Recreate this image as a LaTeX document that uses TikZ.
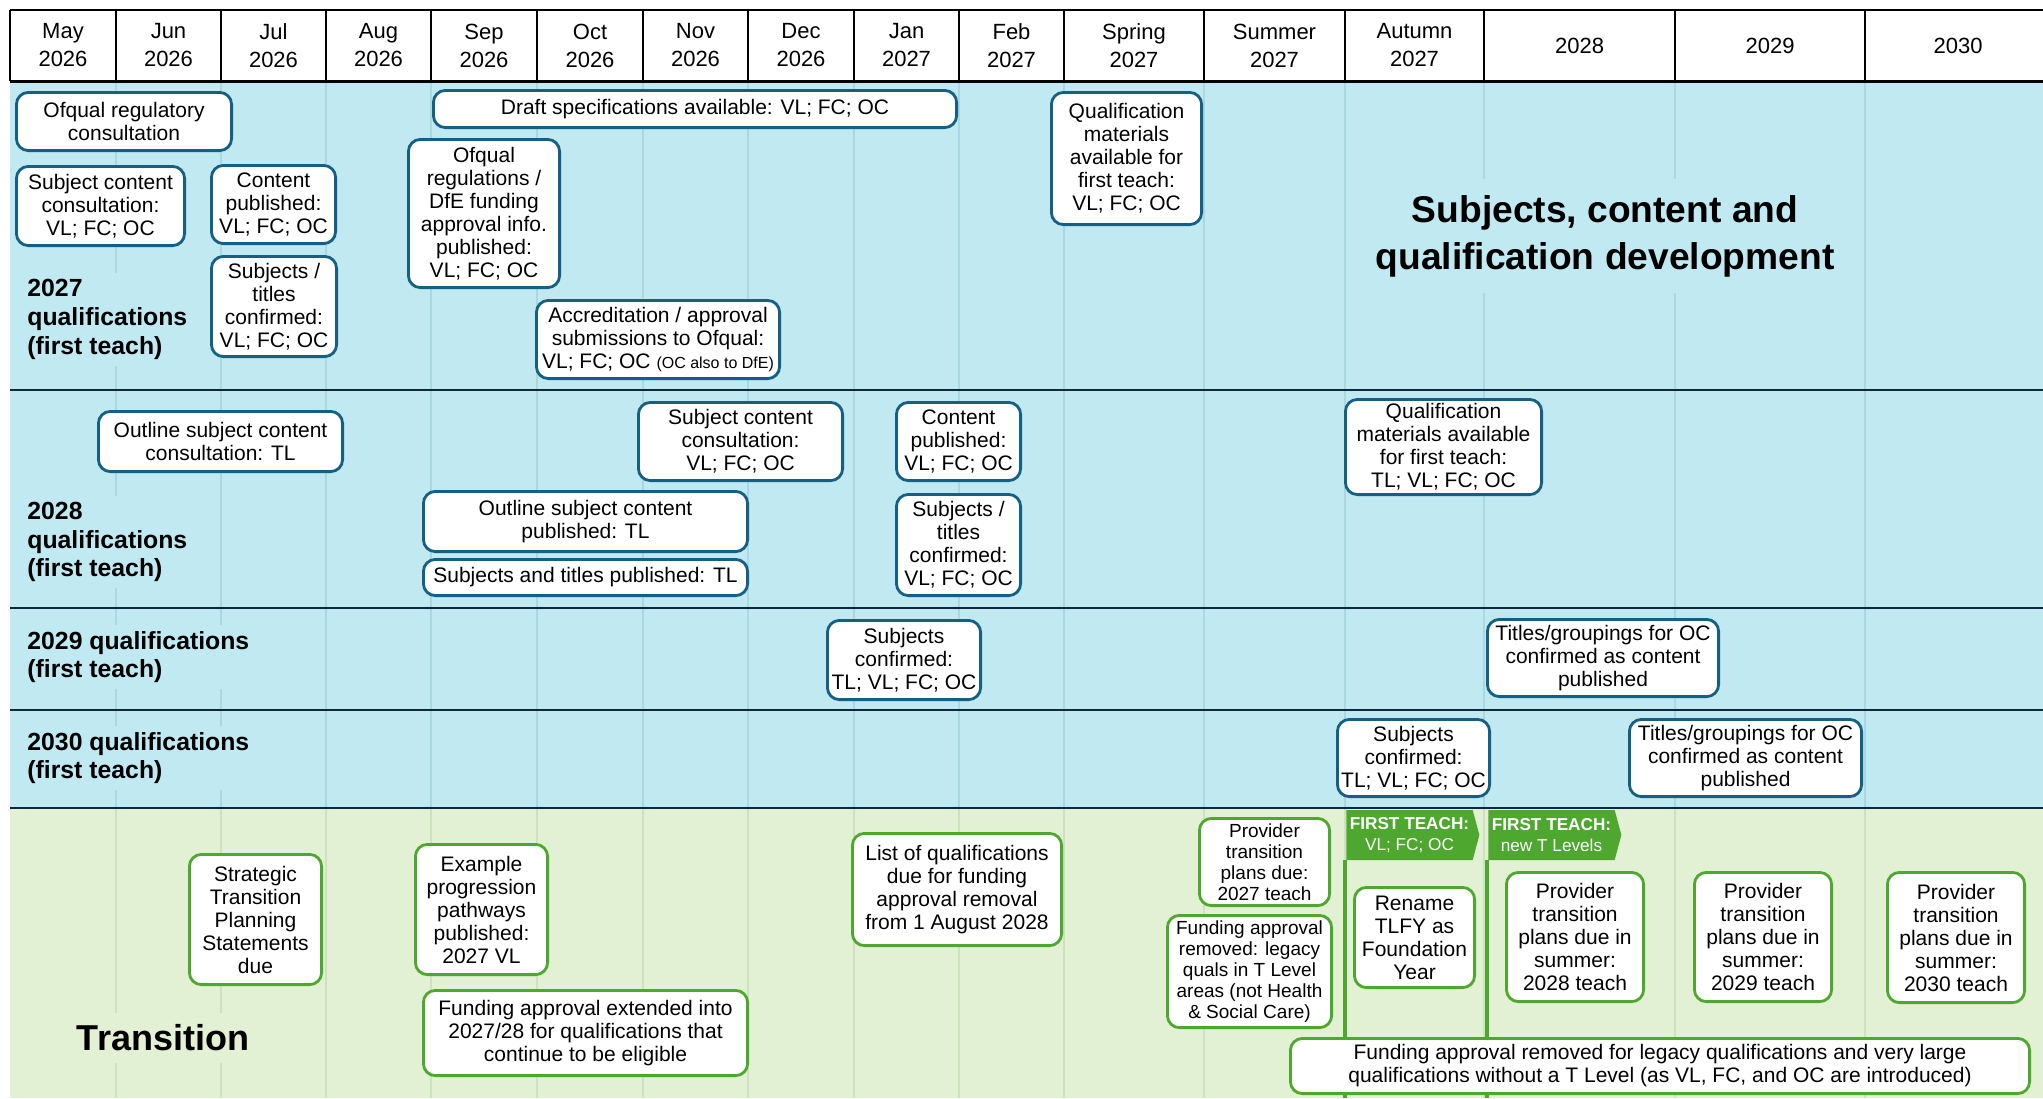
\documentclass[tikz,border=0pt]{standalone}
\usepackage{fontspec}
\setmainfont{Liberation Sans}
\usetikzlibrary{shapes.symbols}
\definecolor{laneblue}{HTML}{C1E9F2}
\definecolor{lanegreen}{HTML}{E2F0D4}
\definecolor{gridblue}{HTML}{A9D7E2}
\definecolor{gridgreen}{HTML}{CCE3BE}
\definecolor{sepnavy}{HTML}{0E2841}
\definecolor{boxblue}{HTML}{156082}
\definecolor{boxgreen}{HTML}{4EA72E}
\newcommand{\qboxfont}{\fontsize{10.5}{11.5}\selectfont}
\newcommand{\qsmallfont}{\fontsize{9.5}{10.6}\selectfont}
\newcommand{\qbox}[7]{\node[#1, minimum width={(#5-#3)*0.5pt-1.4pt}, minimum height={(#6-#4)*0.5pt-1.4pt}] (#2) at ({(#3+#5)/2},{(#4+#6)/2}) {#7};}
\tikzset{
  bluebox/.style={draw=boxblue, fill=white, line width=1.4pt, rounded corners=6pt, align=center, inner sep=1pt, font=\qboxfont, text=black},
  greenbox/.style={bluebox, draw=boxgreen},
  smallgreen/.style={greenbox, font=\qsmallfont},
  hdr/.style={align=center, font=\fontsize{11}{14}\selectfont, inner sep=0pt},
  lanelabel/.style={anchor=west, align=left, fill=laneblue, inner xsep=2pt, inner ysep=3pt, font=\fontsize{12.4}{14.4}\selectfont\bfseries},
  bigtitle/.style={align=center, fill=laneblue, inner sep=8pt, font=\fontsize{18.6}{23.5}\selectfont\bfseries},
  translabel/.style={fill=lanegreen, inner sep=6pt, font=\fontsize{18}{22}\selectfont\bfseries},
  banner/.style={shape=signal, signal to=east, signal from=nowhere, signal pointer angle=150, fill=boxgreen, text=white, align=center, inner sep=0pt, minimum width=66.5pt, minimum height=25pt, font=\fontsize{8.6}{10.5}\selectfont},
  vline/.style={draw=boxgreen, line width=1.65pt},
  gridl/.style={line width=1pt},
  sepl/.style={draw=sepnavy, line width=1.2pt},
  hline/.style={draw=black, line width=1pt}
}
\begin{document}
\begin{tikzpicture}[x=0.5pt,y=-0.5pt]
\useasboundingbox (0,0) rectangle (2043,1098);
\clip (0,0) rectangle (2043,1098);
% lane backgrounds
\fill[laneblue] (10,81) rectangle (2043,808);
\fill[lanegreen] (10,808) rectangle (2043,1098);
% gridlines
\foreach \gx in {116,221,326,431,537,643,748,854,959,1064,1204,1345,1484,1675,1865} {
  \draw[gridl, gridblue] (\gx,81) -- (\gx,808);
  \draw[gridl, gridgreen] (\gx,808) -- (\gx,1098);
}
% lane separators
\foreach \sy in {390,608,710,808} {\draw[sepl] (10,\sy) -- (2043,\sy);}
% header
\fill[white] (10,10) rectangle (2060,81);
\draw[hline] (10,10) -- (2060,10);
\draw[hline] (10,10) -- (10,81);
\foreach \hx in {116,221,326,431,537,643,748,854,959,1064,1204,1345,1484,1675,1865} {\draw[hline] (\hx,10) -- (\hx,81);}
\draw[draw=black, line width=1.5pt] (10,81) -- (2060,81);
\node[hdr] (hmay) at (63,45.5) {May\\2026};
\node[hdr] (hjun) at (168.5,45.5) {Jun\\2026};
\node[hdr] (hjul) at (273.5,45.5) {Jul\\2026};
\node[hdr] (haug) at (378.5,45.5) {Aug\\2026};
\node[hdr] (hsep) at (484,45.5) {Sep\\2026};
\node[hdr] (hoct) at (590,45.5) {Oct\\2026};
\node[hdr] (hnov) at (695.5,45.5) {Nov\\2026};
\node[hdr] (hdec) at (801,45.5) {Dec\\2026};
\node[hdr] (hjan) at (906.5,45.5) {Jan\\2027};
\node[hdr] (hfeb) at (1011.5,45.5) {Feb\\2027};
\node[hdr] (hspr) at (1134,45.5) {Spring\\2027};
\node[hdr] (hsum) at (1274.5,45.5) {Summer\\2027};
\node[hdr] (haut) at (1414.5,45.5) {Autumn\\2027};
\node[hdr] (h28) at (1579.5,45.5) {2028};
\node[hdr] (h29) at (1770,45.5) {2029};
\node[hdr] (h30) at (1958,45.5) {2030};
% first-teach vertical lines
\node[banner] (ft1) at (1409.5,835) {\textbf{FIRST TEACH:}\\VL; FC; OC};
\node[banner] (ft2) at (1551.5,835) {\textbf{FIRST TEACH:}\\new T Levels};
\coordinate (ft1end) at (1345,1098);
\coordinate (ft2end) at (1487,1098);
\draw[vline] (ft1end |- ft1.south) -- (ft1end);
\draw[vline] (ft2end |- ft2.south) -- (ft2end);
% lane labels
\node[lanelabel] (lab27) at (23,319.5) {2027\\qualifications\\(first teach)};
\node[lanelabel] (lab28) at (23,542) {2028\\qualifications\\(first teach)};
\node[lanelabel] (lab29) at (23,657) {2029 qualifications\\(first teach)};
\node[lanelabel] (lab30) at (23,758) {2030 qualifications\\(first teach)};
\node[bigtitle] (ttl) at (1605,236) {Subjects, content and\\qualification development};
\node[translabel] (trans) at (163,1038) {Transition};
% 2027 lane
\qbox{bluebox}{a1}{15}{91}{233}{152}{Ofqual regulatory\\consultation}
\qbox{bluebox}{a2}{432}{89}{958}{129}{Draft specifications available: VL; FC; OC}
\qbox{bluebox}{a3}{15}{165}{186}{247}{Subject content\\consultation:\\VL; FC; OC}
\qbox{bluebox}{a4}{210}{164}{337}{245}{Content\\published:\\VL; FC; OC}
\qbox{bluebox}{a5}{210}{255}{338}{358}{Subjects /\\titles\\confirmed:\\VL; FC; OC}
\qbox{bluebox}{a6}{407}{138}{561}{289}{Ofqual\\regulations /\\DfE funding\\approval info.\\published:\\VL; FC; OC}
\qbox{bluebox}{a7}{535}{299}{781}{380}{Accreditation / approval\\submissions to Ofqual:\\VL; FC; OC {\fontsize{8}{9}\selectfont (OC also to DfE)}}
\qbox{bluebox}{a8}{1050}{91}{1203}{226}{Qualification\\materials\\available for\\first teach:\\VL; FC; OC}
% 2028 lane
\qbox{bluebox}{b1}{97}{410}{344}{473}{Outline subject content\\consultation: TL}
\qbox{bluebox}{b2}{637}{401}{844}{482}{Subject content\\consultation:\\VL; FC; OC}
\qbox{bluebox}{b3}{895}{401}{1022}{482}{Content\\published:\\VL; FC; OC}
\qbox{bluebox}{b4}{422}{490}{749}{553}{Outline subject content\\published: TL}
\qbox{bluebox}{b5}{422}{558}{749}{597}{Subjects and titles published: TL}
\qbox{bluebox}{b6}{895}{493}{1022}{597}{Subjects /\\titles\\confirmed:\\VL; FC; OC}
\qbox{bluebox}{b7}{1344}{398}{1543}{496}{Qualification\\materials available\\for first teach:\\TL; VL; FC; OC}
% 2029 lane
\qbox{bluebox}{c1}{826}{619}{982}{701}{Subjects\\confirmed:\\TL; VL; FC; OC}
\qbox{bluebox}{c2}{1486}{618}{1720}{698}{Titles/groupings for OC\\confirmed as content\\published}
% 2030 lane
\qbox{bluebox}{d1}{1336}{718}{1491}{798}{Subjects\\confirmed:\\TL; VL; FC; OC}
\qbox{bluebox}{d2}{1628}{718}{1863}{798}{Titles/groupings for OC\\confirmed as content\\published}
% transition lane
\qbox{greenbox}{e1}{188}{853}{323}{986}{Strategic\\Transition\\Planning\\Statements\\due}
\qbox{greenbox}{e2}{414}{843}{549}{976}{Example\\progression\\pathways\\published:\\2027 VL}
\qbox{greenbox}{e3}{422}{989}{749}{1077}{Funding approval extended into\\2027/28 for qualifications that\\continue to be eligible}
\qbox{greenbox}{e4}{851}{832}{1063}{947}{List of qualifications\\due for funding\\approval removal\\from 1 August 2028}
\qbox{smallgreen}{e5}{1198}{817}{1331}{907}{Provider\\transition\\plans due:\\2027 teach}
\qbox{smallgreen}{e6}{1166}{914}{1333}{1029}{Funding approval\\removed: legacy\\quals in T Level\\areas (not Health\\\& Social Care)}
\qbox{greenbox}{e7}{1353}{886}{1476}{989}{Rename\\TLFY as\\Foundation\\Year}
\qbox{greenbox}{e8}{1505}{871}{1645}{1003}{Provider\\transition\\plans due in\\summer:\\2028 teach}
\qbox{greenbox}{e9}{1693}{871}{1833}{1003}{Provider\\transition\\plans due in\\summer:\\2029 teach}
\qbox{greenbox}{e10}{1886}{871}{2026}{1004}{Provider\\transition\\plans due in\\summer:\\2030 teach}
\qbox{greenbox}{e11}{1289}{1037}{2031}{1095}{Funding approval removed for legacy qualifications and very large\\qualifications without a T Level (as VL, FC, and OC are introduced)}
\end{tikzpicture}
\end{document}
